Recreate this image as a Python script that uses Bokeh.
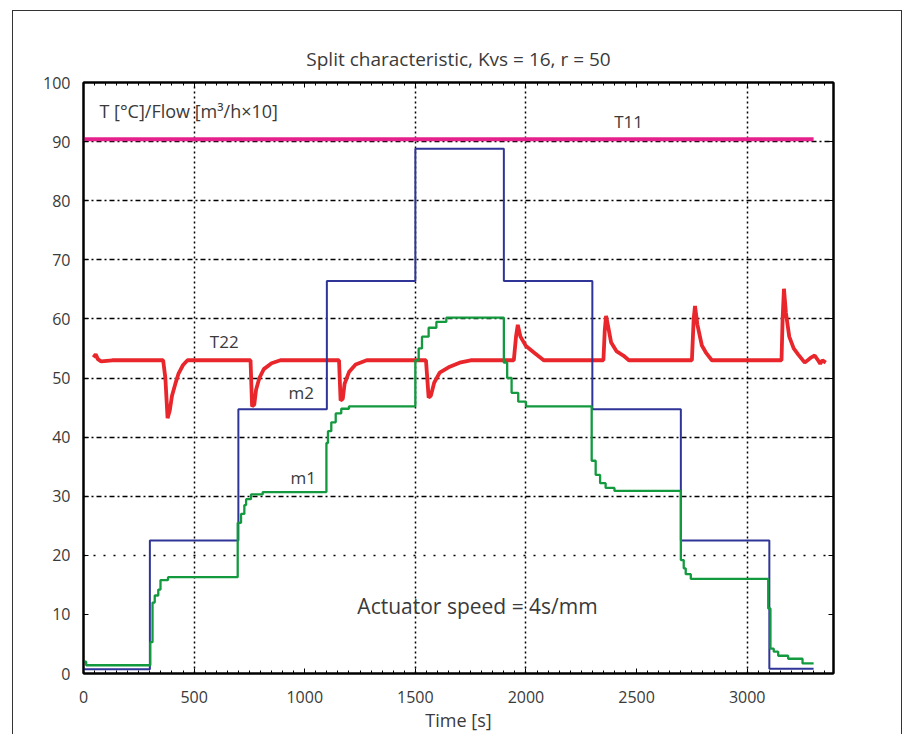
from bokeh.plotting import figure
from bokeh.models import (LinearAxis, Label, Grid, FixedTicker, Range1d)
from bokeh.embed import file_html
from bokeh.resources import INLINE

# ---------------- data ----------------
# T11 (supply temperature)
t11_t = [0, 3300]
t11_v = [90.4, 90.4]

# T22 (return temperature)
t22_t = [45, 55, 65, 80, 130, 360, 370, 380, 390, 400, 415, 430, 450, 470,
         755, 762, 772, 780, 795, 815, 850, 890,
         1155, 1162, 1172, 1180, 1200, 1230, 1280,
         1548, 1560, 1570, 1585, 1610, 1650, 1700, 1750,
         1945, 1955, 1963, 1975, 2000, 2040, 2080,
         2350, 2356, 2362, 2370, 2385, 2410, 2440, 2465,
         2750, 2758, 2764, 2775, 2795, 2815, 2840,
         3155, 3160, 3166, 3175, 3190, 3210, 3230, 3260, 3290, 3305, 3320, 3330, 3340, 3355]
t22_v = [53.5, 54.0, 53.2, 52.8, 53.0, 53.0, 50.0, 43.2, 44.5, 47.0, 49.0, 50.8, 52.2, 53.0,
         53.0, 45.2, 45.5, 48.0, 50.0, 51.5, 52.5, 53.0,
         53.0, 46.2, 46.5, 49.0, 51.0, 52.3, 53.0,
         53.0, 46.7, 47.0, 49.2, 50.9, 51.8, 52.6, 53.0,
         53.0, 57.0, 59.0, 57.0, 55.4, 54.2, 53.0,
         53.0, 58.0, 60.5, 59.0, 56.0, 54.5, 53.8, 53.0,
         53.0, 60.0, 62.2, 59.0, 55.5, 54.2, 53.0,
         53.0, 60.0, 65.1, 61.0, 57.0, 55.0, 54.0, 52.6, 53.5, 53.8, 53.0, 52.4, 53.0, 52.6]

# m2 (flow, blue) - step values
m2_t = [0, 300, 700, 1100, 1500, 1900, 2300, 2700, 3100, 3300]
m2_v = [0.7, 22.5, 44.7, 66.4, 88.8, 66.4, 44.7, 22.5, 0.8, 0.8]

# m1 (flow, green) - step values
m1_t = [0, 12, 302, 312, 322, 338, 348, 382,
        697, 712, 727, 735, 757, 810,
        1098, 1105, 1120, 1140, 1165, 1200,
        1500, 1515, 1530, 1560, 1595, 1640,
        1900, 1915, 1935, 1965, 2000,
        2297, 2315, 2335, 2360, 2400,
        2700, 2713, 2722, 2745,
        3095, 3105, 3120, 3140, 3185, 3250, 3300]
m1_v = [2.0, 1.4, 5.3, 12.0, 13.2, 14.2, 15.8, 16.3,
        25.5, 27.0, 28.5, 29.5, 30.3, 30.7,
        39.0, 41.0, 42.5, 44.0, 44.8, 45.2,
        53.0, 55.0, 57.0, 58.5, 59.5, 60.2,
        52.6, 50.0, 47.5, 46.0, 45.2,
        36.0, 33.6, 32.2, 31.4, 30.9,
        19.2, 17.8, 16.8, 16.0,
        11.0, 4.2, 3.7, 3.0, 2.5, 1.7, 1.7]

x_ticks = [0, 500, 1000, 1500, 2000, 2500, 3000]
y_ticks = [0, 10, 20, 30, 40, 50, 60, 70, 80, 90, 100]
grid_y_dashdot = [30, 40, 50, 60, 70, 80, 90]
grid_y_dotted = [20]
grid_x_dotted = [500, 1500, 2000, 3000]

FONT = "Open Sans"
TXT = "#3a3a3a"

p = figure(width=890, height=724, output_backend="svg", toolbar_location=None,
           x_range=Range1d(0, 3390), y_range=Range1d(0, 100),
           min_border_left=70, min_border_right=70, min_border_top=71, min_border_bottom=62,
           x_axis_label="Time [s]")
p.styles = {"margin-left": "12px", "margin-top": "10px",
            "border-left": "1.5px solid #333", "border-top": "1.5px solid #333",
            "border-right": "1.5px solid #333"}

p.title.text = "Split characteristic, Kvs = 16, r = 50"
p.title.align = "center"
p.title.text_font = FONT
p.title.text_font_size = "19px"
p.title.text_font_style = "normal"
p.title.text_color = TXT
p.title.standoff = 21

p.xgrid.visible = False
p.ygrid.visible = False
p.outline_line_color = "black"
p.outline_line_width = 2

# axes
for ax in (p.xaxis[0], p.yaxis[0]):
    ax.major_tick_in = 5
    ax.major_tick_out = 0
    ax.minor_tick_in = 3
    ax.minor_tick_out = 0
    ax.axis_line_width = 2
    ax.axis_line_color = "black"
    ax.major_label_text_font = FONT
    ax.major_label_text_font_size = "16px"
    ax.major_label_text_color = TXT
p.xaxis[0].major_label_standoff = 17
p.yaxis[0].major_label_standoff = 13
p.xaxis[0].ticker = FixedTicker(ticks=x_ticks, minor_ticks=list(range(0, 3400, 50)))
p.yaxis[0].ticker = FixedTicker(ticks=y_ticks)
p.xaxis[0].axis_label_text_font = FONT
p.xaxis[0].axis_label_text_font_size = "18px"
p.xaxis[0].axis_label_text_font_style = "normal"
p.xaxis[0].axis_label_text_color = TXT
p.xaxis[0].axis_label_standoff = 2

top_ax = LinearAxis(ticker=FixedTicker(ticks=x_ticks, minor_ticks=list(range(0, 3400, 50))),
                    major_label_text_font_size="0px", major_tick_in=5, major_tick_out=0,
                    minor_tick_in=3, minor_tick_out=0, axis_line_width=2,
                    major_label_standoff=0)
right_ax = LinearAxis(ticker=FixedTicker(ticks=y_ticks),
                      major_label_text_font_size="0px", major_tick_in=5, major_tick_out=0,
                      minor_tick_in=0, minor_tick_out=0, axis_line_width=2)
p.add_layout(top_ax, "above")
p.add_layout(right_ax, "right")

# grids
p.add_layout(Grid(dimension=1, ticker=FixedTicker(ticks=grid_y_dashdot),
                  grid_line_color="black", grid_line_width=1.5, grid_line_dash="5 3 2 3"))
p.add_layout(Grid(dimension=1, ticker=FixedTicker(ticks=grid_y_dotted),
                  grid_line_color="black", grid_line_width=1.5, grid_line_dash="2 8"))
p.add_layout(Grid(dimension=0, ticker=FixedTicker(ticks=grid_x_dotted),
                  grid_line_color="black", grid_line_width=1.5, grid_line_dash="2 3"))

# series
p.line(t11_t, t11_v, line_color="#e5228b", line_width=4)
p.line(t22_t, t22_v, line_color="#e8262b", line_width=3.8)
p.step(m2_t, m2_v, mode="after", line_color="#2f3596", line_width=2)
p.step(m1_t, m1_v, mode="after", line_color="#139a3f", line_width=2.3)

# texts
def lab(x, y, text, size="17px", align="center"):
    p.add_layout(Label(x=x, y=y, text=text, text_font=FONT, text_font_size=size,
                       text_color=TXT, text_align=align, text_baseline="middle"))

lab(72, 95.1, "T [°C]/Flow [m³/h×10]", size="18px", align="left")
lab(2464, 93.4, "T11")
lab(636, 56.2, "T22")
lab(984, 47.5, "m2")
lab(993, 33.1, "m1")
lab(1781, 11.5, "Actuator speed = 4s/mm", size="21px")

open("out.html", "w").write(file_html(p, INLINE))
